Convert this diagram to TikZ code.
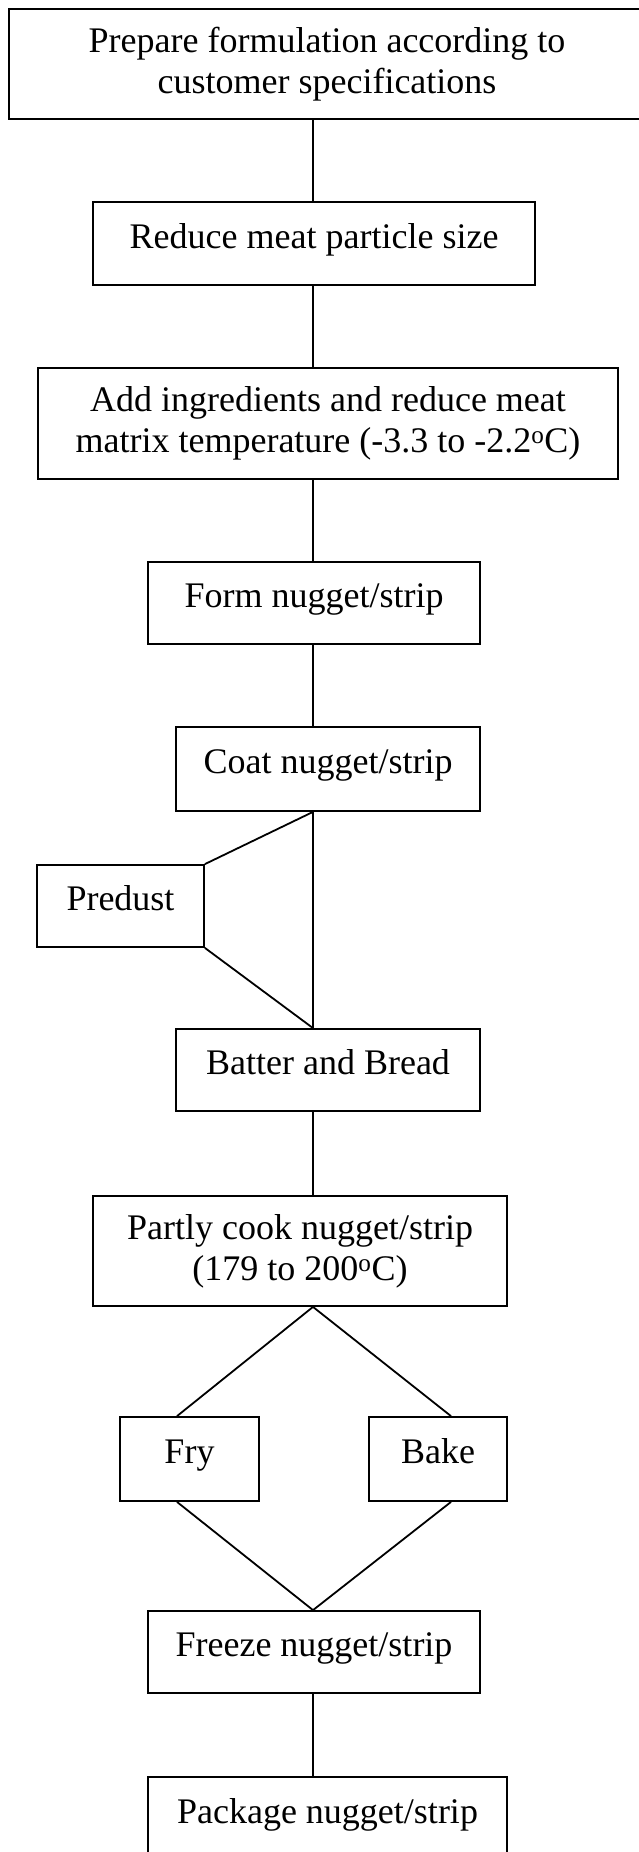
\documentclass[tikz,border=0pt]{standalone}
\usepackage{fontspec}
\setmainfont{Liberation Serif}
\usepackage{tikz}

\begin{document}
\begin{tikzpicture}[x=1pt,y=-1pt,
    stepbox/.style={draw,line width=1.8pt,inner sep=0pt,align=center,
        font=\fontsize{36}{41}\selectfont},
    oneline/.style={stepbox,text height=25pt,text depth=16pt},
    link/.style={line width=1.8pt}]
    \useasboundingbox (0,0) rectangle (639,1852);
    \coordinate (spine) at (313,0);
    % Main boxes
    \node[stepbox,minimum width=636pt,minimum height=110pt] (prep) at (327,64)
        {Prepare formulation according to\\customer specifications};
    \node[oneline,minimum width=442pt,minimum height=83pt] (reduce) at (314,243.5)
        {Reduce meat particle size};
    \node[stepbox,minimum width=580pt,minimum height=111pt] (add) at (328,423.5)
        {Add ingredients and reduce meat\\matrix temperature (-3.3 to -2.2\textsuperscript{o}C)};
    \node[oneline,minimum width=332pt,minimum height=82pt] (form) at (314,603)
        {Form nugget/strip};
    \node[oneline,minimum width=304pt,minimum height=84pt] (coat) at (328,769)
        {Coat nugget/strip};
    % Side branch
    \node[oneline,minimum width=167pt,minimum height=82pt] (predust) at (120.5,906)
        {Predust};
    \node[oneline,minimum width=304pt,minimum height=82pt] (batter) at (328,1070)
        {Batter and Bread};
    \node[stepbox,minimum width=414pt,minimum height=110pt] (cook) at (300,1251)
        {Partly cook nugget/strip\\(179 to 200\textsuperscript{o}C)};
    % Fry or bake
    \node[oneline,minimum width=139pt,minimum height=84pt] (fry) at (189.5,1459)
        {Fry};
    \node[oneline,minimum width=138pt,minimum height=84pt] (bake) at (438,1459)
        {Bake};
    \node[oneline,minimum width=332pt,minimum height=82pt] (freeze) at (314,1652)
        {Freeze nugget/strip};
    \node[oneline,minimum width=359pt,minimum height=83pt] (pack) at (327.5,1818.5)
        {Package nugget/strip};
    % Connectors
    \draw[link] (prep.south -| spine) -- (reduce.north -| spine);
    \draw[link] (reduce.south -| spine) -- (add.north -| spine);
    \draw[link] (add.south -| spine) -- (form.north -| spine);
    \draw[link] (form.south -| spine) -- (coat.north -| spine);
    \draw[link] (coat.south -| spine) -- (batter.north -| spine);
    \draw[link] (coat.south -| spine) -- (predust.north east);
    \draw[link] (predust.south east) -- (batter.north -| spine);
    \draw[link] (batter.south -| spine) -- (cook.north -| spine);
    \draw[link] (cook.south -| spine) -- ([xshift=-12.5pt]fry.north);
    \draw[link] (cook.south -| spine) -- ([xshift=13pt]bake.north);
    \draw[link] ([xshift=-12.5pt]fry.south) -- (freeze.north -| spine);
    \draw[link] ([xshift=13pt]bake.south) -- (freeze.north -| spine);
    \draw[link] (freeze.south -| spine) -- (pack.north -| spine);
\end{tikzpicture}
\end{document}
